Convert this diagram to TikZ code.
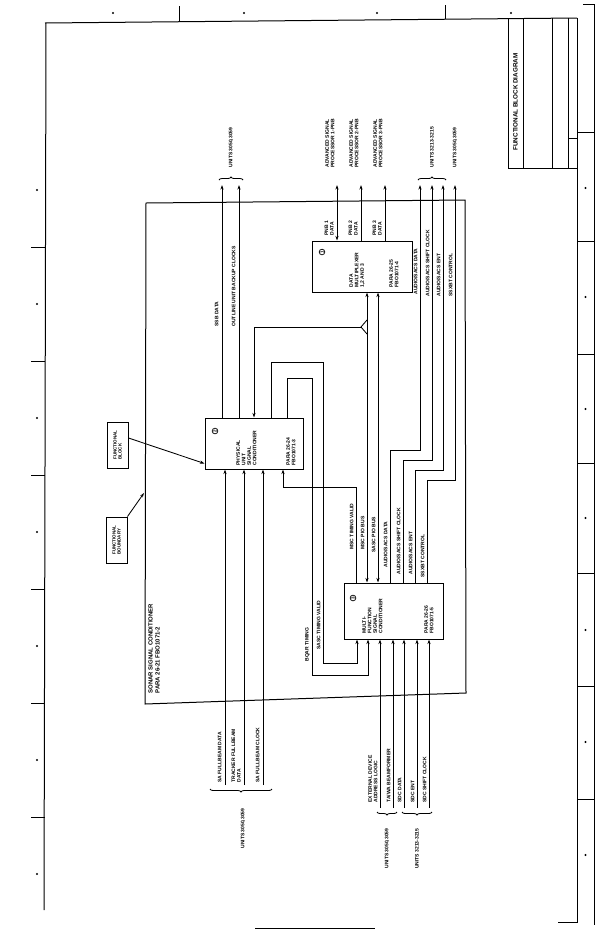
\documentclass[tikz,border=0pt]{standalone}
\usepackage{fontspec}
\setsansfont{Liberation Sans}
\usetikzlibrary{arrows.meta, positioning, calc, decorations.pathreplacing}

\begin{document}
\begin{tikzpicture}[
    x=1pt, y=-1pt,
    blk/.style={draw, line width=1pt, inner sep=0pt},
    txt/.style={rotate=90, align=left, inner sep=0.3pt,
                font=\sffamily\bfseries\fontsize{5}{5.5}\selectfont},
    lbl/.style={txt, anchor=south west},
    num/.style={draw, circle, line width=0.7pt, inner sep=0.6pt, rotate=90,
                font=\sffamily\bfseries\fontsize{4.5}{5}\selectfont},
    cbox/.style={draw, line width=1pt, rotate=90, align=left,
                 minimum width=46pt, minimum height=21pt, inner sep=1pt,
                 font=\sffamily\bfseries\fontsize{4.5}{5}\selectfont},
    sig/.style={line width=0.85pt},
    arrow/.style={sig, -{Stealth[length=4.5pt, width=3pt]}},
    both/.style={sig, {Stealth[length=4.5pt, width=3pt]}-{Stealth[length=4.5pt, width=3pt]}},
    frame/.style={line width=1pt},
    brc/.style={line width=0.8pt, decorate, decoration={brace, amplitude=3pt}}
]
\useasboundingbox (0,0) rectangle (607,930);

% sheet frame
\draw[frame] (45,23) -- (577,18);
\draw[frame] (46,23) -- (44,910);
\draw[frame] (179,6) -- (179,21);
\draw[frame] (445,5) -- (445,19);
\foreach \x in {113,244,377,511} \fill (\x,13) circle (1.1pt);
\foreach \y in {247,361,475,589,703,817} \draw[frame] (31,\y) -- (45,\y);
\foreach \y in {190,304,418,532,646,760,874} \fill (37,\y) circle (1.1pt);
\draw[frame] (577,18) -- (577,922) -- (558,922);
\draw[frame] (583,4) -- (594,4) -- (594,925);
\foreach \y in {132,241,354,463,573,686,799} \draw[frame] (577,\y) -- (594,\y);
\foreach \y in {188,297,409,518,630,742,855} \fill (585.5,\y) circle (1.1pt);

% title block
\draw[frame] (508,19) -- (508,168) -- (577,168);
\draw[frame] (523,19) -- (523,168);
\draw[frame] (552,18) -- (552,168);
\draw[frame] (568,18) -- (568,168);
\draw[frame] (568,138) -- (577,138);
\node[txt, font=\sffamily\bfseries\fontsize{6.3}{7}\selectfont] (title) at (515.5,102) {FUNCTIONAL BLOCK DIAGRAM};

% functional boundary
\draw[frame] (146,203) -- (465,200) -- (466,693) -- (145,704) -- cycle;
\node[txt, anchor=north west, font=\sffamily\bfseries\fontsize{6}{7}\selectfont] (ssc) at (148,694)
    {SONAR SIGNAL CONDITIONER\\PARA 26-21 FBO1071-2};

% blocks
\node[blk, minimum width=100pt, minimum height=51pt] (mux) at (362,266.5) {};
\node[blk, minimum width=98pt, minimum height=51pt] (psc) at (254,443.5) {};
\node[blk, minimum width=99pt, minimum height=56pt] (msc) at (393.5,611) {};

\node[num] (mux-n) at (322,252) {1};
\node[txt, anchor=north west] (mux-t) at (349,288) {DATA\\MULTIPLEXER\\1,2 AND 3};
\node[txt, anchor=north west] (mux-p) at (389,288) {PARA 26-25\\FBO1071-4};

\node[num] (psc-n) at (215,431) {2};
\node[txt, anchor=north west] (psc-t) at (236,466) {PHYSICAL\\UNIT\\SIGNAL\\CONDITIONER};
\node[txt, anchor=north west] (psc-p) at (286,466) {PARA 26-24\\FBO1071-3};

\node[num] (msc-n) at (353,598) {3};
\node[txt, anchor=north west] (msc-t) at (362,634) {MULTI-\\FUNCTION\\SIGNAL\\CONDITIONER};
\node[txt, anchor=north west] (msc-p) at (424,634) {PARA 26-26\\FBO1071-5};

% callouts
\node[cbox] (fblk) at (117.5,445) {FUNCTIONAL\\BLOCK};
\node[cbox] (fbnd) at (116.5,540) {FUNCTIONAL\\BOUNDARY};
\coordinate (bnd) at (144,493);
\draw[arrow] ($(fblk.south)+(0,-7)$) -- ($(psc.south west)+(0,-6)$);
\draw[arrow] (fbnd.south east) -- (bnd);

% outputs of physical unit signal conditioner
\coordinate (o1) at (222,185);
\coordinate (o2) at (239,185);
\draw[arrow] (psc.north -| o1) -- (o1);
\draw[arrow] (psc.north -| o2) -- (o2);
\draw[brc] (219,180) -- (243,180);
\node[txt, anchor=west] (u1) at (231,168) {UNITS 3050,3059};
\node[lbl] (l-ssb) at (219,327) {SSB DATA};
\node[lbl] (l-obc) at (236,327) {OUTLINE UNIT BACKUP CLOCKS};

% data multiplexer to advanced signal processors
\coordinate (a1) at (337,185);
\coordinate (a2) at (361,185);
\coordinate (a3) at (385,185);
\draw[both] (mux.north -| a1) -- (a1);
\draw[arrow] (mux.north -| a2) -- (a2);
\draw[arrow] (mux.north -| a3) -- (a3);
\node[lbl] (asp1) at (335,168) {ADVANCED SIGNAL\\PROCESSOR 1-PNB};
\node[lbl] (asp2) at (359,168) {ADVANCED SIGNAL\\PROCESSOR 2-PNB};
\node[lbl] (asp3) at (383,168) {ADVANCED SIGNAL\\PROCESSOR 3-PNB};
\node[lbl] (pnb1) at (334,236) {PNB 1\\DATA};
\node[lbl] (pnb2) at (358,236) {PNB 2\\DATA};
\node[lbl] (pnb3) at (382,236) {PNB 3\\DATA};

% PIO buses
\coordinate (b1) at (367,0);
\coordinate (b2) at (378,0);
\draw[both] (mux.south -| b1) -- (msc.north -| b1);
\draw[both] (mux.south -| b2) -- (msc.north -| b2);
\coordinate (fork) at (361,327);
\draw[sig] (367,320) -- (fork) -- (367,334);
\draw[arrow] (fork) -- (fork -| psc.north) -- (psc.north);
\node[lbl] (l-mpb) at (365,550) {MSC PIO BUS};
\node[lbl] (l-spb) at (376,553) {SASC PIO BUS};

% timing loops
\draw[arrow] (psc.north -| 271,0) -- (271,362) -- (323,362) -- (323,663) -- (357,663) -- (msc.south -| 357,0);
\draw[arrow] (psc.north -| 287,0) -- (287,378) -- (312,378) -- (312,675) -- (368,675) -- (msc.south -| 368,0);
\node[lbl] (l-btm) at (310,662) {BQAR TIMING};
\node[lbl] (l-stv) at (321,650) {SASC TIMING VALID};
\draw[arrow] (msc.north -| 356,0) -- (356,487) -- (283,487) -- (psc.south -| 283,0);
\node[lbl] (l-mtv) at (354,550) {MSC TIMING VALID};

% audio / sacs outputs
\coordinate (s1) at (420,185);
\coordinate (s2) at (432,185);
\coordinate (s3) at (443,185);
\coordinate (s4) at (455,185);
\draw[arrow] (msc.north -| 390,0) -- (390,450) -- (420,450) -- (s1);
\draw[arrow] (msc.north -| 403,0) -- (403,460) -- (432,460) -- (s2);
\draw[arrow] (msc.north -| 415,0) -- (415,470) -- (443,470) -- (s3);
\draw[arrow] (msc.north -| 427,0) -- (427,480) -- (455,480) -- (s4);
\draw[brc] (418,180) -- (446,180);
\node[txt, anchor=west] (u2) at (432,168) {UNITS 3213-3215};
\node[txt, anchor=west] (u3) at (455,168) {UNITS 3050,3059};
\node[lbl] (t-asd) at (418,295) {AUDIO/SACS DATA};
\node[lbl] (t-asc) at (430,297) {AUDIO/SACS SHIFT CLOCK};
\node[lbl] (t-ase) at (441,297) {AUDIO/SACS ENT};
\node[lbl] (t-ssx) at (453,297) {SSXBT CONTROL};
\node[lbl] (b-asd) at (388,568) {AUDIO/SACS DATA};
\node[lbl] (b-asc) at (401,575) {AUDIO/SACS SHIFT CLOCK};
\node[lbl] (b-ase) at (413,575) {AUDIO/SACS ENT};
\node[lbl] (b-ssx) at (425,578) {SSXBT CONTROL};

% fullbeam inputs
\coordinate (f1) at (225,785);
\coordinate (f2) at (244,785);
\coordinate (f3) at (263,785);
\draw[arrow] (f1) -- (f1 |- psc.south);
\draw[arrow] (f2) -- (f2 |- psc.south);
\draw[arrow] (f3) -- (f3 |- psc.south);
\node[lbl] (l-sfd) at (222,783) {SA FULLBEAM DATA};
\node[lbl] (l-tfd) at (241,783) {TRACKER FULLBEAM\\DATA};
\node[lbl] (l-sfc) at (260,783) {SA FULLBEAM CLOCK};
\draw[brc] (272,789) -- (210,789);
\node[txt, anchor=east] (u4) at (243,808) {UNITS 3050,3059};

% sdc inputs
\coordinate (d1) at (380,808);
\coordinate (d2) at (393,808);
\coordinate (d3) at (404,808);
\coordinate (d4) at (417,808);
\coordinate (d5) at (429,808);
\draw[arrow] (d1) -- (d1 |- msc.south);
\draw[arrow] (d2) -- (d2 |- msc.south);
\draw[arrow] (d3) -- (d3 |- msc.south);
\draw[arrow] (d4) -- (d4 |- msc.south);
\draw[arrow] (d5) -- (d5 |- msc.south);
\node[lbl] (l-edl) at (378,803) {EXTERNAL DEVICE\\ADDRESS LOGIC};
\node[lbl] (l-tab) at (391,803) {TA/WA BEAMFORMER};
\node[lbl] (l-sdd) at (402,803) {SDC DATA};
\node[lbl] (l-sde) at (415,803) {SDC ENT};
\node[lbl] (l-sdc) at (427,803) {SDC SHIFT CLOCK};
\draw[brc] (397,812) -- (377,812);
\draw[brc] (432,812) -- (402,812);
\node[txt, anchor=east] (u5) at (387,828) {UNITS 3050,3059};
\node[txt, anchor=east] (u6) at (417,828) {UNITS 3213-3215};

% scale bar
\draw[frame] (255,928) -- (375,928);
\end{tikzpicture}
\end{document}
